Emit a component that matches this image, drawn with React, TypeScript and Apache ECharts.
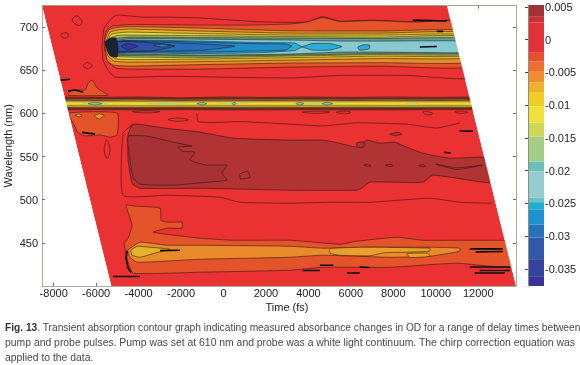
import React, { useEffect, useRef } from "react";
import * as echarts from "echarts";

type P = [number, number];

// Axis values
const timeTicks = [-8000, -6000, -4000, -2000, 0, 2000, 4000, 6000, 8000, 10000, 12000];
const wavelengthTicks = [450, 500, 550, 600, 650, 700];
const odTicks = [0.005, 0, -0.005, -0.01, -0.015, -0.02, -0.025, -0.03, -0.035];

// Chirp-corrected edge of the measured region: wavelength -> first and last delay time
const chirpWavelengths = [725, 400];
const chirpFirstTime = [-8550, -5285];
const chirpLastTime = [10527, 13780];

// Colour bar steps (OD)
const barUpper = [0.0053, 0.0035, 0.0026, -0.002, -0.00335, -0.0049, -0.00655, -0.0081, -0.0102, -0.01265, -0.0148, -0.0186, -0.0201, -0.0241, -0.0248, -0.0259, -0.0282, -0.0302, -0.0335, -0.0361];
const barLower = [0.0035, 0.0026, -0.002, -0.00335, -0.0049, -0.00655, -0.0081, -0.0102, -0.01265, -0.0148, -0.0186, -0.0201, -0.0241, -0.0248, -0.0259, -0.0282, -0.0302, -0.0335, -0.0361, -0.0376];
const barColors = ["#A03338", "#C83136", "#E3313A", "#E8502D", "#EE6E2B", "#EE8E2C", "#EDB22B", "#ECCF22", "#F0E13A", "#CFD757", "#A5CE85", "#6CC0BC", "#93CDD0", "#6FC1C0", "#20AED4", "#1C92CF", "#2574BA", "#3259A8", "#33449E", "#3A329A"];

// Upper ground-state band, contours in (time fs, wavelength nm)
const bandRed: P[] = [[-5010, 714], [-3790, 711.5], [-2660, 711.5], [-1105, 710.5], [445, 708], [1720, 706], [3130, 705.5], [3930, 706], [4680, 712], [5480, 707], [7035, 708], [8920, 706], [10520, 708], [12000, 708], [12000, 642], [8635, 644], [5480, 644], [3130, 641], [-2660, 643], [-5100, 642], [-5435, 650], [-5670, 662], [-5720, 679], [-5620, 699], [-5200, 711.5]];
const bandOrangeRed: P[] = [[-5530, 695.4], [-5245, 701], [-4400, 703], [-1105, 702.3], [1245, 702.3], [2425, 703], [3130, 703.5], [3930, 705.8], [4680, 711], [5480, 706.4], [7035, 707.5], [8920, 705.8], [10520, 707.5], [12000, 708], [12000, 654.8], [7365, 654.8], [3130, 653.6], [-1105, 651.3], [-4400, 651.3], [-5060, 652.5], [-5435, 659.4], [-5620, 679]];
const bandOrange: P[] = [[-5575, 687.2], [-5385, 697], [-4870, 700], [-4400, 700.6], [-1105, 698.8], [1245, 697], [3130, 695.7], [7365, 695.4], [12000, 695.4], [12000, 660], [7365, 658.8], [3130, 658.3], [-1105, 656.5], [-4400, 654.8], [-5200, 656], [-5480, 661.7], [-5575, 675.6]];
const bandGold: P[] = [[-5530, 682.6], [-5340, 694.2], [-4870, 697], [-4400, 697.7], [-1105, 695.4], [3130, 693], [7365, 693], [12000, 693.6], [12000, 665.2], [7365, 663.5], [3130, 661.7], [-1105, 660], [-4400, 659.4], [-5150, 660.6], [-5435, 666.4], [-5530, 673.3]];
const bandYellow: P[] = [[-5480, 681.5], [-5290, 691.3], [-4870, 693.6], [-4400, 694.2], [-1105, 692.5], [3130, 690.7], [7365, 690.7], [12000, 690.7], [12000, 667.5], [7365, 666.4], [3130, 664.6], [-1105, 662.9], [-4400, 662.3], [-5105, 663.5], [-5385, 668.7], [-5480, 673.3]];
const bandGreen: P[] = [[-5435, 680.3], [-5245, 688.4], [-4870, 690.7], [-4400, 690.7], [-1105, 690.1], [3130, 689], [7365, 688.4], [12000, 689.6], [12000, 668.7], [7365, 668.1], [3130, 666.4], [-1105, 664.6], [-4400, 665.2], [-5060, 666.4], [-5340, 671]];
const bandDarkTeal: P[] = [[-5340, 679], [-5200, 686], [-4400, 688.4], [-1105, 687.8], [3130, 687.2], [7365, 686.7], [12000, 686.7], [12000, 669.9], [7365, 669.3], [3130, 667.5], [-1105, 666.4], [-4400, 667], [-5060, 667.5], [-5290, 671]];
const bandLightTeal: P[] = [[-5245, 678], [-5105, 683.8], [-4400, 686.7], [-1105, 686], [3130, 685], [5480, 683.8], [7365, 683.8], [12000, 683.2], [12000, 671], [7365, 671], [5480, 671], [3130, 668.7], [-1105, 667.5], [-4400, 668.7], [-5060, 668.7], [-5245, 672.2]];
const bandCyan: P[] = [[-5105, 682.6], [-4400, 685], [-1105, 683.8], [1720, 682], [3365, 681.5], [3695, 677.4], [4165, 680.9], [5010, 680.9], [5575, 677.4], [5010, 673.3], [4165, 673.3], [3695, 676.8], [3365, 672.8], [1720, 670.4], [-1105, 669.3], [-4400, 669.9], [-5060, 669.9]];
const cyanIsland: P[] = [[6330, 677], [6600, 679.5], [6895, 679], [6850, 674.5], [6400, 673.5]];
const bandBlue: P[] = [[-5105, 682.6], [-4400, 684.3], [-1105, 682.6], [1245, 680.9], [2895, 680.3], [3225, 678], [2895, 673.3], [1245, 672.2], [-1105, 671], [-4400, 671], [-5060, 671]];
const bandDeepBlue: P[] = [[-5060, 682.6], [-4400, 683.8], [-2520, 682], [-870, 680.3], [540, 678], [-870, 673.3], [-2520, 672.2], [-4400, 671.6], [-5060, 671.6]];
const bandNavy: P[] = [[-5060, 682.6], [-4400, 683.2], [-3225, 681.5], [-2285, 678], [-3225, 672.8], [-4400, 672.2], [-5060, 672.2]];
const bandIndigo: P[] = [[-4825, 678], [-4495, 680.9], [-4025, 678], [-4495, 673.9]];
const bandOnsetDark: P[] = [[-5575, 682.6], [-5340, 687.2], [-5060, 687.2], [-4965, 675.6], [-5010, 665.2], [-5340, 666.4], [-5480, 673.3]];
const teal610Spots: P[][] = [[[-3300, 679], [-2900, 680], [-2500, 679], [-2900, 677]]];

// Pump-scatter stripe at 610 nm
const stripeTimes = [-8000, -6000, -4000, -2000, 0, 2000, 4000, 6000, 8000, 10000, 12000, 14000];
const stripeOuterHigh = [619, 618.5, 619, 618, 619, 618.5, 619, 618.5, 619, 618.5, 619, 619];
const stripeOuterLow = [604, 604.5, 604, 604.5, 604, 604, 604.5, 604, 604, 604.5, 604.5, 604];
const stripeBrownHigh = [617, 617, 617.3, 616.6, 617, 616.8, 617, 616.6, 617, 616.6, 617, 617];
const stripeBrownLow = [605.8, 606, 605.6, 606, 605.7, 605.8, 606, 605.8, 605.6, 606, 605.8, 605.8];
const stripeGoldHigh = [615.2, 615, 615.4, 615, 615.2, 615, 615.3, 615, 615.2, 615, 615.2, 615.2];
const stripeGoldLow = [607, 607.2, 607, 607.3, 607, 607.2, 607, 607.2, 607, 607.2, 607, 607];
const stripeYellowHigh = [613.5, 613.4, 613.6, 613.3, 613.5, 613.4, 613.5, 613.4, 613.5, 613.3, 613.5, 613.5];
const stripeYellowLow = [609.3, 609.5, 609.2, 609.5, 609.3, 609.4, 609.3, 609.5, 609.3, 609.5, 609.3, 609.3];
const stripeGreenStart = [-6760, -3790, -400, 3130, 8540];
const stripeGreenEnd = [-5340, -1575, 1245, 5480, 9250];
const stripeTealStart = [-6380, -1250, 400, 3410, 4635];
const stripeTealEnd = [-5720, -775, 590, 3790, 5150];

// Features left of and around the bands
const scatterAbove: P[] = [[-7320, 621], [-7130, 627], [-6520, 627], [-6375, 635], [-6190, 638.6], [-5950, 629.3], [-5810, 627], [-5435, 621]];
const scatterBelow: P[] = [[-7300, 600.3], [-5010, 600.3], [-5010, 575], [-5340, 572.5], [-5810, 575], [-6520, 574], [-6860, 578], [-7000, 585]];
const scatterGold: P[] = [[-6990, 598], [-6800, 599.2], [-6660, 597.5], [-6820, 596]];
const scatterOrange: P[] = [[-6095, 597], [-5850, 599.5], [-5620, 598], [-5850, 593.5]];

// Bleach maximum around 550 nm
const bleachOuter: P[] = [[-4260, 587.5], [-2755, 582.9], [-1105, 578.3], [445, 571.3], [3130, 569], [4680, 569], [5480, 565.5], [6280, 560.9], [6755, 569], [7365, 565.5], [8070, 566.5], [8635, 560.9], [9390, 553.9], [10660, 548], [12070, 549.3], [12775, 545.8], [12775, 520.3], [12210, 520.3], [9860, 528.4], [9390, 520.3], [6895, 520.3], [6520, 513.3], [6280, 511], [3130, 511], [-1105, 513.3], [-3930, 513.3], [-4305, 519], [-4495, 545.8], [-4495, 574.8]];
const bleachInner: P[] = [[-4495, 573.6], [-3600, 573.6], [-2375, 566.7], [-1480, 562], [-2140, 560.9], [-1955, 556.2], [-1340, 555], [-1575, 545.8], [-775, 540], [165, 540], [-70, 530.7], [165, 522.6], [-775, 520.3], [-2375, 516.8], [-3930, 518], [-4260, 526], [-4400, 545.8]];
const bleachEdge: P[] = [[-4260, 587.5], [-4730, 577.1], [-4730, 505.2], [-2660, 505.2], [-165, 502.9], [775, 497], [3130, 495.9], [5010, 497], [6895, 497], [9720, 501.7], [11130, 497], [12635, 495.9]];
const redEdge: P[] = [[-1250, 600], [-1200, 590.5], [-400, 589.5], [775, 590.5], [3130, 587.5], [4680, 585.5], [6280, 589], [8635, 587.5], [10050, 583], [11130, 589]];
const bleachIslands: P[][] = [
  [[775, 530], [1150, 533], [1245, 526], [800, 524]],
  [[6620, 540], [6800, 541], [6950, 539.5], [6800, 538.5]],
  [[7620, 540], [7850, 541], [8000, 539.5], [7850, 538.5]],
  [[9200, 539.5], [9400, 540.5], [9520, 539], [9400, 538]],
  [[6280, 566], [6600, 567], [6620, 561], [6300, 561]],
  [[7835, 576], [8200, 578], [8400, 576], [8100, 574]],
  [[10000, 541], [11000, 537], [12210, 540], [11000, 535]],
];

// Induced absorption band near 440 nm
const lowerRed: P[] = [[-4590, 493.6], [-4165, 492.5], [-2990, 490.2], [-2940, 476.2], [-2610, 473.9], [-1955, 473.9], [-1955, 467], [-2660, 467], [-3320, 462.4], [-2375, 458.9], [-1105, 455.4], [445, 453], [3130, 453], [5480, 448.4], [6280, 451.9], [8165, 456.5], [9390, 453], [10990, 453], [13155, 453], [13955, 453], [13955, 421.7], [10990, 426.4], [7835, 421.7], [4680, 421.7], [3130, 418.3], [-1105, 416], [-4260, 414.8], [-4495, 427.6], [-4680, 449.6], [-4495, 455.4], [-4305, 470.4]];
const lowerOrange: P[] = [[-4495, 441.4], [-3930, 450.7], [-2660, 447.2], [-1105, 447.2], [3130, 446], [4680, 443.8], [6565, 444.9], [9720, 444.9], [11130, 443.8], [11130, 440.3], [9720, 434.5], [7835, 433.3], [4680, 435.7], [3130, 433.3], [-1105, 431], [-4070, 427.6], [-4400, 433.3]];
const lowerBright: P[] = [[5010, 443.2], [6520, 444.9], [9720, 443.8], [9720, 440.3], [8540, 439.1], [7600, 438.6], [6895, 435.1], [5480, 435.7], [5010, 438]];
const lowerBrightIsland: P[] = [[8640, 437.5], [9600, 438], [9720, 434.5], [8800, 433]];
const lowerGold: P[] = [[-4355, 441.4], [-4070, 446], [-3460, 444.9], [-2520, 442.6], [-3085, 439.1], [-3930, 433.3], [-4305, 435.7]];

// Small closed contours
const smallIslands: P[][] = [
  [[-7130, 708], [-6900, 713], [-6660, 705], [-6850, 702]],
  [[-6610, 655], [-6400, 659], [-6190, 655], [-6400, 652]],
  [[-7650, 692], [-7350, 693], [-7350, 688], [-7600, 688]],
  [[-5620, 558], [-5500, 569], [-5350, 558], [-5480, 548]],
  [[3700, 601.5], [4400, 602.5], [5000, 601.5], [4400, 600]],
  [[5300, 601.5], [5800, 602.5], [6000, 601], [5700, 599.5]],
  [[9400, 601.5], [9600, 602], [9850, 600], [9600, 598]],
  [[10900, 602], [11200, 602.5], [11500, 601.5], [11200, 600]],
  [[-4300, 602], [-3600, 603], [-3000, 602], [-3600, 600.5]],
  [[-2600, 593], [-2100, 594.5], [-1650, 592.5], [-2200, 591]],
];

// Dense contour smudges that print as black
const blackMarks: P[][] = [
  [[-4540, 441], [-4590, 432], [-4495, 420.6], [-4355, 416]],
  [[-5200, 411], [-3930, 411]],
  [[11600, 443], [13155, 443]],
  [[11880, 439.5], [13155, 440]],
  [[11600, 422], [13500, 422]],
  [[12070, 418], [13500, 418]],
  [[11830, 415], [13250, 415]],
  [[4540, 424], [5170, 424]],
  [[3740, 418], [4540, 418]],
  [[5810, 415], [6420, 415]],
  [[6420, 422], [6895, 421.5]],
  [[-2990, 441], [-2050, 441.5]],
  [[-7700, 638.5], [-7225, 639.5]],
  [[-7320, 626], [-6990, 627], [-6610, 624.6]],
  [[-6660, 578], [-6050, 576]],
  [[8920, 708], [10520, 707]],
  [[9250, 677], [10050, 677.5]],
  [[10050, 695], [10350, 695]],
  [[11130, 579.5], [11750, 579.5]],
  [[10400, 555], [10700, 554]],
];

const palette = {
  base: "#EA3233", red: "#EB3335", orangeRed: "#E5532B", orange: "#E98A2B", gold: "#E6B22B", yellow: "#E8DA3C",
  green: "#AEBF5E", darkTeal: "#5F9F95", lightTeal: "#88C8CE", cyan: "#29ADD6", blue: "#1F8BCB", deepBlue: "#2A6CBB",
  navy: "#2F4FA8", indigo: "#35389A", onset: "#1B2233", maroon: "#B23334", darkMaroon: "#A63235", stripeDark: "#8C3B2B",
  stripeBrown: "#B4572B", stripeGold: "#D6A82C", stripeGreen: "#BFD06C", stripeTeal: "#7FC7B4", brightOrange: "#EB9E2A",
};

const FONT = '"Liberation Sans", Arial, sans-serif';
const INK = "rgba(25,15,15,0.72)";

const ribbon = (times: number[], hi: number[], lo: number[]): P[] => [
  ...times.map((t, i) => [t, hi[i]] as P),
  ...times.map((t, i) => [t, lo[i]] as P).reverse(),
];
const lens = (a: number, b: number, hi: number, lo: number): P[] => {
  const m = (a + b) / 2;
  return [[a, (hi + lo) / 2], [m, hi], [b, (hi + lo) / 2], [m, lo]];
};

type Layer = { pts: P[]; fill?: string; stroke?: string; width?: number; open?: boolean; smooth?: number };

const buildLayers = (): Layer[] => {
  const [wTop, wBot] = chirpWavelengths;
  const area: Layer = {
    pts: [[chirpFirstTime[0], wTop], [chirpLastTime[0], wTop], [chirpLastTime[1], wBot], [chirpFirstTime[1], wBot]],
    fill: palette.base, smooth: 0,
  };
  const f = (pts: P[], fill: string, stroke: string = INK, width = 0.7, smooth = 0.15): Layer => ({ pts, fill, stroke, width, smooth });
  const layers: Layer[] = [
    area,
    f(scatterAbove, palette.orangeRed),
    f(scatterBelow, palette.orangeRed),
    f(scatterGold, palette.gold),
    f(scatterOrange, palette.brightOrange),
    f(bandRed, palette.red),
    f(bandOrangeRed, palette.orangeRed),
    f(bandOrange, palette.orange),
    f(bandGold, palette.gold),
    f(bandYellow, palette.yellow),
    f(bandGreen, palette.green),
    f(bandDarkTeal, palette.darkTeal),
    f(bandLightTeal, palette.lightTeal),
    f(bandCyan, palette.cyan),
    f(cyanIsland, palette.cyan),
    f(bandBlue, palette.blue),
    f(bandDeepBlue, palette.deepBlue),
    f(bandNavy, palette.navy),
    f(bandIndigo, palette.indigo),
    f(bandOnsetDark, palette.onset),
    f(ribbon(stripeTimes, stripeOuterHigh, stripeOuterLow), palette.stripeDark, INK, 0.7, 0),
    f(ribbon(stripeTimes, stripeBrownHigh, stripeBrownLow), palette.stripeBrown, INK, 0.7, 0),
    f(ribbon(stripeTimes, stripeGoldHigh, stripeGoldLow), palette.stripeGold, INK, 0.7, 0),
    f(ribbon(stripeTimes, stripeYellowHigh, stripeYellowLow), palette.yellow, INK, 0.4, 0),
    ...stripeGreenStart.map((a, i) => f(lens(a, stripeGreenEnd[i], 612.9, 609.8), palette.stripeGreen, "rgba(0,0,0,0)")),
    ...stripeTealStart.map((a, i) => f(lens(a, stripeTealEnd[i], 612.9, 609.7), palette.stripeTeal, "rgba(40,40,20,0.6)")),
    ...teal610Spots.map((s) => f(s, palette.blue)),
    f(bleachOuter, palette.maroon),
    f(bleachInner, palette.darkMaroon),
    ...bleachIslands.map((s) => f(s, palette.maroon)),
    f(lowerRed, palette.orangeRed),
    f(lowerOrange, palette.orange),
    f(lowerBright, palette.brightOrange),
    f(lowerBrightIsland, palette.brightOrange),
    f(lowerGold, palette.gold),
    ...smallIslands.map((s) => ({ pts: s, stroke: INK, width: 0.7, smooth: 0.4, fill: "rgba(0,0,0,0)" })),
    { pts: bleachEdge, stroke: INK, width: 0.7, open: true, smooth: 0.15 },
    { pts: redEdge, stroke: INK, width: 0.7, open: true, smooth: 0.15 },
    ...blackMarks.map((s) => ({ pts: s, stroke: "#0C0C0C", width: 1.6, open: true, smooth: 0 })),
    // outside the measured range the page stays white
    { pts: [[chirpFirstTime[0], wTop], [chirpFirstTime[1], wBot], [-9500, wBot], [-9500, wTop]], fill: "#fff", smooth: 0 },
    { pts: [[chirpLastTime[0], wTop], [chirpLastTime[1], wBot], [15000, wBot], [15000, wTop]], fill: "#fff", smooth: 0 },
  ];
  return layers;
};

const captionLines = [
  "{b|Fig. 13}. Transient absorption contour graph indicating measured absorbance changes in OD for a range of delay times between",
  "pump and probe pulses. Pump was set at 610 nm and probe was a white light continuum. The chirp correction equation was",
  "applied to the data.",
];
const captionSizes = [10.2, 10.4, 10.4];

export default function App() {
  const ref = useRef<HTMLDivElement>(null);
  useEffect(() => {
    if (!ref.current) return;
    document.body.style.margin = "0";
    const chart = echarts.init(ref.current, undefined, { renderer: "svg" });
    const layers = buildLayers();
    const sideAxisLine = { show: true, onZero: false, lineStyle: { color: "#A9AE9E", width: 1 } };
    const tick = { show: true, inside: true, length: 3, lineStyle: { color: "#6E6E62", width: 1 } };
    const labelStyle = { fontFamily: FONT, fontSize: 11, color: "#222" };
    chart.setOption({
      animation: false,
      backgroundColor: "#fff",
      grid: [
        { left: 42, top: 5.5, width: 474, height: 280.5, containLabel: false, outerBoundsMode: "none" },
        { left: 528, top: 5, width: 16, height: 281, containLabel: false, outerBoundsMode: "none" },
      ],
      xAxis: [
        {
          type: "value", gridIndex: 0, min: -8550, max: 13780, position: "bottom", z: 10,
          name: "Time (fs)", nameLocation: "middle", nameGap: 21, nameMoveOverlap: false,
          nameTextStyle: { ...labelStyle, padding: [0, 0, 0, 16], verticalAlign: "middle" },
          splitLine: { show: false }, axisLine: sideAxisLine,
          axisTick: { ...tick, customValues: timeTicks },
          axisLabel: { ...labelStyle, margin: 1, customValues: timeTicks, formatter: (v: number) => String(v) },
        },
        {
          type: "value", gridIndex: 0, min: -8550, max: 13780, position: "top", z: 10,
          splitLine: { show: false }, axisLine: { ...sideAxisLine, lineStyle: { color: "#A89E90", width: 1 } },
          axisTick: { ...tick, customValues: timeTicks }, axisLabel: { show: false },
        },
        { type: "value", gridIndex: 1, min: 0, max: 1, show: false },
      ],
      yAxis: [
        {
          type: "value", gridIndex: 0, min: 400, max: 725, position: "left", z: 10,
          name: "Wavelength (nm)", nameLocation: "middle", nameGap: 34, nameRotate: 90, nameMoveOverlap: false,
          nameTextStyle: { ...labelStyle, verticalAlign: "middle" },
          splitLine: { show: false }, axisLine: sideAxisLine,
          axisTick: { ...tick, customValues: wavelengthTicks },
          axisLabel: { ...labelStyle, margin: 4, customValues: wavelengthTicks, formatter: (v: number) => String(v) },
        },
        {
          type: "value", gridIndex: 0, min: 400, max: 725, position: "right", z: 10,
          splitLine: { show: false }, axisLine: { ...sideAxisLine, lineStyle: { color: "#B0A898", width: 1 } },
          axisTick: { ...tick, customValues: wavelengthTicks }, axisLabel: { show: false },
        },
        {
          type: "value", gridIndex: 1, min: -0.0376, max: 0.0053, position: "right", z: 10,
          splitLine: { show: false },
          axisLine: { show: true, lineStyle: { color: "#8E8E84", width: 1 } },
          axisTick: { show: true, inside: true, length: 3, lineStyle: { color: "#444", width: 1 }, customValues: odTicks },
          axisLabel: { ...labelStyle, margin: 1, customValues: odTicks, formatter: (v: number) => String(v) },
        },
      ],
      series: [
        {
          type: "custom", xAxisIndex: 0, yAxisIndex: 0, coordinateSystem: "cartesian2d", clip: true, silent: true,
          data: layers.map((l, i) => [l.pts[0][0], l.pts[0][1], i]),
          encode: { x: 0, y: 1 },
          renderItem: (_p: unknown, api: any) => {
            const l = layers[api.value(2)];
            const points = l.pts.map((q) => api.coord(q));
            return {
              type: l.open ? "polyline" : "polygon",
              shape: { points, smooth: l.smooth || 0 },
              style: l.open
                ? { fill: "none", stroke: l.stroke, lineWidth: l.width }
                : { fill: l.fill, stroke: l.stroke || "none", lineWidth: l.width || 0 },
            };
          },
        },
        {
          type: "custom", xAxisIndex: 2, yAxisIndex: 2, coordinateSystem: "cartesian2d", silent: true,
          data: barUpper.map((u, i) => [0, u, barLower[i], i]),
          encode: { x: 0, y: 1 },
          renderItem: (_p: unknown, api: any) => {
            const a = api.coord([0, api.value(1)]);
            const b = api.coord([1, api.value(2)]);
            return {
              type: "rect",
              shape: { x: a[0], y: a[1], width: b[0] - a[0], height: b[1] - a[1] },
              style: { fill: barColors[api.value(3)] },
            };
          },
        },
      ],
      graphic: captionLines.map((text, i) => ({
        type: "text", left: 5, top: 322 + i * 15,
        style: {
          text, fontFamily: FONT, fontSize: captionSizes[i], fill: "#474747",
          rich: { b: { fontFamily: FONT, fontSize: captionSizes[i], fontWeight: "bold", fill: "#333" } },
        },
      })),
    });
    return () => chart.dispose();
  }, []);
  return <div ref={ref} style={{ position: "absolute", left: 0, top: 0, width: 580, height: 365, filter: "blur(0.4px)" }} />;
}
